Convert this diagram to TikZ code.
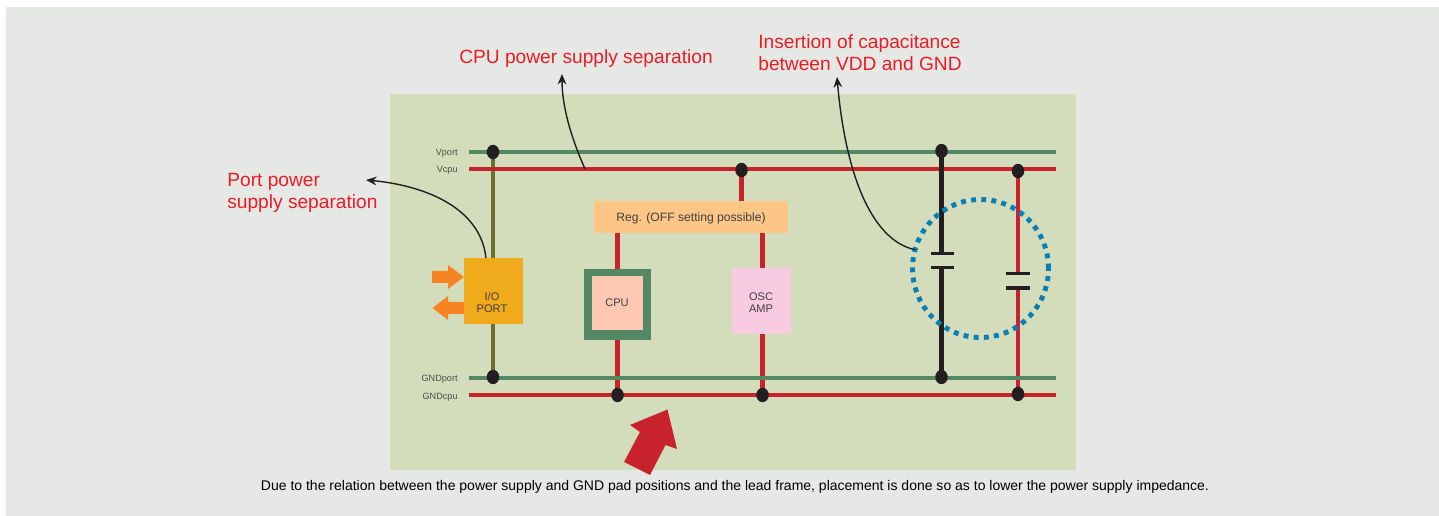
\documentclass[tikz,border=0pt]{standalone}
\usepackage{fontspec}
\setmainfont{Liberation Sans}
\usetikzlibrary{arrows.meta, backgrounds, shapes.geometric}
\definecolor{pagegray}{HTML}{E6E8E6}
\definecolor{panelgreen}{HTML}{D3DDBB}
\definecolor{railgreen}{HTML}{548864}
\definecolor{railred}{HTML}{C8232C}
\definecolor{olivewire}{HTML}{6B6F32}
\definecolor{dotblack}{HTML}{231F20}
\definecolor{ioyellow}{HTML}{F0AB1C}
\definecolor{regorange}{HTML}{FDC586}
\definecolor{cpupeach}{HTML}{FDC8B2}
\definecolor{oscpink}{HTML}{F8CBE0}
\definecolor{ringblue}{HTML}{0A7FB5}
\definecolor{arroworange}{HTML}{F68422}
\definecolor{notered}{HTML}{ED1C24}
\tikzset{
  rail/.style={line width=1.9pt},
  wire/.style={line width=2.3pt},
  plate/.style={line width=1.9pt, dotblack},
  joint/.style={circle, fill=dotblack, inner sep=0pt, minimum size=0.25cm, yscale=1.15},
  block/.style={inner sep=0pt, outer sep=0pt},
  blocktext/.style={align=center, text=black!75, font=\fontsize{6.3}{7}\selectfont},
  railtext/.style={anchor=east, inner sep=0pt, text=black!70, font=\fontsize{5.2}{6}\selectfont},
  note/.style={anchor=west, inner sep=0pt, align=left, text=notered, font=\fontsize{10.9}{12.5}\selectfont},
  lead/.style={line width=0.8pt, dotblack, -{Stealth[length=6pt, width=5pt]}},
}
\begin{document}
\begin{tikzpicture}[x=0.02cm, y=-0.02cm]
  \useasboundingbox (0, 0) rectangle (1439, 516);
  % rail ends
  \coordinate (vportl) at (469, 152);
  \coordinate (vportr) at (1056, 152);
  \coordinate (vcpul) at (469, 169);
  \coordinate (vcpur) at (1056, 169);
  \coordinate (gndportl) at (469, 378);
  \coordinate (gndportr) at (1056, 378);
  \coordinate (gndcpul) at (469, 395);
  \coordinate (gndcpur) at (1056, 395);
  % blocks
  \node[block, fill=ioyellow, minimum width=1.18cm, minimum height=1.32cm] (ioport) at (493.5, 291) {};
  \node[block, fill=regorange, minimum width=3.88cm, minimum height=0.64cm] (reg) at (691, 217) {};
  \node[block, fill=railgreen, minimum width=1.34cm, minimum height=1.42cm] (cpuframe) at (617.5, 304.5) {};
  \node[block, fill=cpupeach, minimum width=1.02cm, minimum height=1.08cm] (cpu) at (617.5, 303) {};
  \node[block, fill=oscpink, minimum width=1.18cm, minimum height=1.32cm] (osc) at (761.5, 301) {};
  \node[blocktext] (iolabel) at (492, 302.5) {I/O\\PORT};
  \node[blocktext, font=\fontsize{6.9}{8}\selectfont] (reglabel) at (691, 218.5) {Reg. (OFF setting possible)};
  \node[blocktext] (cpulabel) at (617, 302.5) {CPU};
  \node[blocktext] (osclabel) at (761, 302.5) {OSC\\AMP};
  % joints
  \node[joint] (j1) at (493, 152) {};
  \node[joint] (j2) at (741.5, 170) {};
  \node[joint] (j3) at (941.5, 151) {};
  \node[joint] (j4) at (1018, 171) {};
  \node[joint] (j5) at (493, 377) {};
  \node[joint] (j6) at (617.5, 395) {};
  \node[joint] (j7) at (762.5, 395) {};
  \node[joint] (j8) at (941.5, 377) {};
  \node[joint] (j9) at (1018, 394) {};
  % capacitors
  \coordinate (c1a) at (931, 253.5);
  \coordinate (c1b) at (954, 253.5);
  \coordinate (c1c) at (931, 267.5);
  \coordinate (c1d) at (954, 267.5);
  \coordinate (c2a) at (1006, 273.5);
  \coordinate (c2b) at (1030, 273.5);
  \coordinate (c2c) at (1006, 288);
  \coordinate (c2d) at (1030, 288);
  \draw[plate] (c1a) -- (c1b);
  \draw[plate] (c1c) -- (c1d);
  \draw[plate] (c2a) -- (c2b);
  \draw[plate] (c2c) -- (c2d);
  \node[ellipse, draw=ringblue, line width=2.8pt, dash pattern=on 2.8pt off 3pt,
    inner sep=0pt, outer sep=0pt, minimum width=2.72cm, minimum height=2.76cm] (capring) at (980.5, 268.5) {};
  % wires under the blocks
  \begin{scope}[on background layer]
    \fill[pagegray] (6, 7) rectangle (1439, 516);
    \fill[panelgreen] (390, 94) rectangle (1076, 470);
    \draw[wire, olivewire] (j1.center) -- (j1 |- ioport.north);
    \draw[wire, olivewire] (j5 |- ioport.south) -- (j5.center);
    \draw[wire, railred] (j2.center) -- (j2 |- reg.north);
    \draw[wire, railred] (j6 |- reg.south) -- (j6 |- cpuframe.north);
    \draw[wire, railred] (j6 |- cpuframe.south) -- (j6.center);
    \draw[wire, railred] (j7 |- reg.south) -- (j7 |- osc.north);
    \draw[wire, railred] (j7 |- osc.south) -- (j7.center);
    \draw[wire, railred] (j4.center) -- (j4 |- c2a);
    \draw[wire, railred] (j4 |- c2c) -- (j9.center);
    \draw[rail, railgreen] (vportl) -- (vportr);
    \draw[rail, railred] (vcpul) -- (vcpur);
    \draw[rail, railgreen] (gndportl) -- (gndportr);
    \draw[rail, railred] (gndcpul) -- (gndcpur);
    \draw[wire, dotblack] (j3.center) -- (j3 |- c1a);
    \draw[wire, dotblack] (j8 |- c1c) -- (j8.center);
  \end{scope}
  % block arrows
  \fill[arroworange] (432, 271) -- (448, 271) -- (448, 265) -- (464, 277) -- (448, 289) -- (448, 283) -- (432, 283) -- cycle;
  \fill[arroworange] (464, 302) -- (448, 302) -- (448, 296) -- (432.5, 308) -- (448, 320) -- (448, 314) -- (464, 314) -- cycle;
  \fill[railred] (667.5, 409.5) -- (677, 449) -- (665.5, 445) -- (650, 475) -- (624, 462) -- (640, 432) -- (630, 425) -- cycle;
  % labels
  \node[railtext] (vportlabel) at (458, 153) {Vport};
  \node[railtext] (vcpulabel) at (458, 170) {Vcpu};
  \node[railtext] (gndportlabel) at (458, 379) {GNDport};
  \node[railtext] (gndcpulabel) at (458, 397.5) {GNDcpu};
  \node[note] (cpunote) at (459, 58.5) {CPU power supply separation};
  \node[note] (capnote) at (758, 52.5) {Insertion of capacitance\\between VDD and GND};
  \node[note] (portnote) at (227, 192.5) {Port power\\supply separation};
  \node[text=black, font=\fontsize{7.97}{9}\selectfont] (caption) at (735, 487)
    {Due to the relation between the power supply and GND pad positions and the lead frame, placement is done so as to lower the power supply impedance.};
  % leaders
  \coordinate (porttail) at (486, 258);
  \coordinate (porttip) at (366, 180);
  \coordinate (cputail) at (585, 169);
  \coordinate (cputip) at (562, 74);
  \coordinate (captip) at (837, 77);
  \draw[lead] (porttail) .. controls (480, 205) and (420, 185) .. (porttip);
  \draw[lead] (cputail) .. controls (570, 135) and (562, 105) .. (cputip);
  \draw[lead] (capring.164) .. controls (870, 240) and (845, 170) .. (captip);
\end{tikzpicture}
\end{document}
